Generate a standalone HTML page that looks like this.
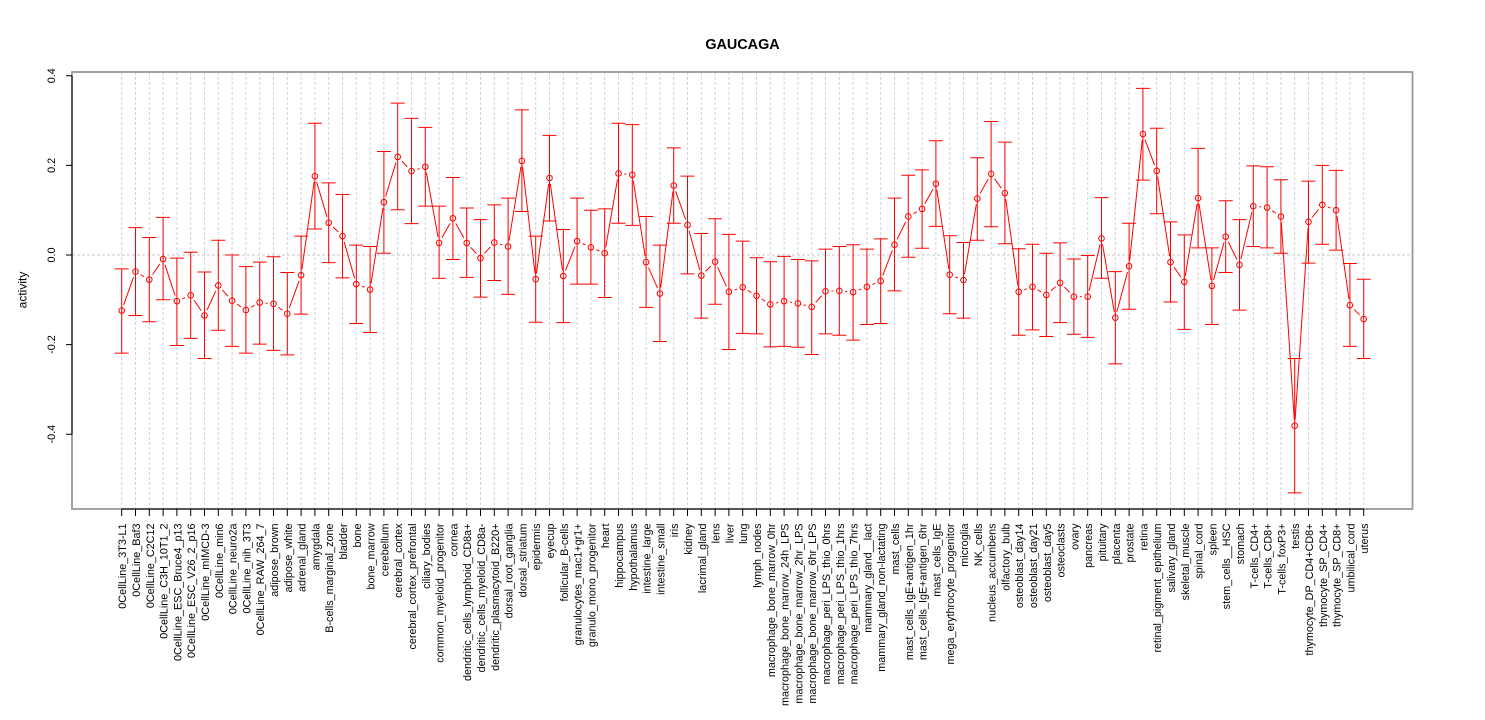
<!DOCTYPE html>
<html><head><meta charset="utf-8"><style>
html,body{margin:0;padding:0;background:#fff;width:1485px;height:720px;overflow:hidden}
svg{display:block}
text{font-family:"Liberation Sans",Arial,Helvetica,sans-serif;fill:#000}
</style></head><body>
<svg width="1485" height="720" viewBox="0 0 1485 720" xmlns="http://www.w3.org/2000/svg">
<defs>
<ellipse id="e" cx="0" cy="0" rx=".2029" ry=".00625" vector-effect="non-scaling-stroke"/>
<ellipse id="me" cx="0" cy="0" rx=".4348" ry=".01339" fill="#000"/>
<mask id="m" maskUnits="userSpaceOnUse" x="-5" y="-1" width="100" height="2">
<rect x="-5" y="-1" width="100" height="2" fill="#fff"/>
<g fill="#000">
<use href="#me" x="0" y="-.124"/><use href="#me" x="1" y="-.037"/><use href="#me" x="2" y="-.055"/><use href="#me" x="3" y="-.009"/><use href="#me" x="4" y="-.103"/><use href="#me" x="5" y="-.09"/><use href="#me" x="6" y="-.135"/><use href="#me" x="7" y="-.068"/><use href="#me" x="8" y="-.102"/><use href="#me" x="9" y="-.123"/>
<use href="#me" x="10" y="-.106"/><use href="#me" x="11" y="-.109"/><use href="#me" x="12" y="-.131"/><use href="#me" x="13" y="-.045"/><use href="#me" x="14" y=".176"/><use href="#me" x="15" y=".072"/><use href="#me" x="16" y=".042"/><use href="#me" x="17" y="-.065"/><use href="#me" x="18" y="-.077"/><use href="#me" x="19" y=".118"/>
<use href="#me" x="20" y=".219"/><use href="#me" x="21" y=".187"/><use href="#me" x="22" y=".197"/><use href="#me" x="23" y=".027"/><use href="#me" x="24" y=".082"/><use href="#me" x="25" y=".027"/><use href="#me" x="26" y="-.007"/><use href="#me" x="27" y=".028"/><use href="#me" x="28" y=".019"/><use href="#me" x="29" y=".21"/>
<use href="#me" x="30" y="-.054"/><use href="#me" x="31" y=".172"/><use href="#me" x="32" y="-.047"/><use href="#me" x="33" y=".031"/><use href="#me" x="34" y=".017"/><use href="#me" x="35" y=".004"/><use href="#me" x="36" y=".182"/><use href="#me" x="37" y=".179"/><use href="#me" x="38" y="-.016"/><use href="#me" x="39" y="-.086"/>
<use href="#me" x="40" y=".155"/><use href="#me" x="41" y=".067"/><use href="#me" x="42" y="-.046"/><use href="#me" x="43" y="-.015"/><use href="#me" x="44" y="-.082"/><use href="#me" x="45" y="-.072"/><use href="#me" x="46" y="-.091"/><use href="#me" x="47" y="-.11"/><use href="#me" x="48" y="-.103"/><use href="#me" x="49" y="-.108"/>
<use href="#me" x="50" y="-.116"/><use href="#me" x="51" y="-.081"/><use href="#me" x="52" y="-.08"/><use href="#me" x="53" y="-.083"/><use href="#me" x="54" y="-.071"/><use href="#me" x="55" y="-.058"/><use href="#me" x="56" y=".023"/><use href="#me" x="57" y=".086"/><use href="#me" x="58" y=".103"/><use href="#me" x="59" y=".159"/>
<use href="#me" x="60" y="-.044"/><use href="#me" x="61" y="-.056"/><use href="#me" x="62" y=".126"/><use href="#me" x="63" y=".181"/><use href="#me" x="64" y=".138"/><use href="#me" x="65" y="-.082"/><use href="#me" x="66" y="-.071"/><use href="#me" x="67" y="-.089"/><use href="#me" x="68" y="-.062"/><use href="#me" x="69" y="-.093"/>
<use href="#me" x="70" y="-.093"/><use href="#me" x="71" y=".037"/><use href="#me" x="72" y="-.14"/><use href="#me" x="73" y="-.025"/><use href="#me" x="74" y=".27"/><use href="#me" x="75" y=".188"/><use href="#me" x="76" y="-.016"/><use href="#me" x="77" y="-.06"/><use href="#me" x="78" y=".127"/><use href="#me" x="79" y="-.069"/>
<use href="#me" x="80" y=".041"/><use href="#me" x="81" y="-.022"/><use href="#me" x="82" y=".109"/><use href="#me" x="83" y=".106"/><use href="#me" x="84" y=".086"/><use href="#me" x="85" y="-.381"/><use href="#me" x="86" y=".074"/><use href="#me" x="87" y=".112"/><use href="#me" x="88" y=".1"/><use href="#me" x="89" y="-.112"/>
<use href="#me" x="90" y="-.143"/>
</g>
</mask>
</defs>

<!-- title -->
<text x="742.5" y="49" text-anchor="middle" font-weight="bold" font-size="14.4">GAUCAGA</text>

<!-- vertical grid -->
<g transform="translate(121.7 0) scale(13.8 1)">
<path fill="none" stroke="#d3d3d3" stroke-width="1" stroke-dasharray="3 2" vector-effect="non-scaling-stroke" d="M0 72V509M1 72V509M2 72V509M3 72V509M4 72V509M5 72V509M6 72V509M7 72V509M8 72V509M9 72V509M10 72V509M11 72V509M12 72V509M13 72V509M14 72V509M15 72V509M16 72V509M17 72V509M18 72V509M19 72V509M20 72V509M21 72V509M22 72V509M23 72V509M24 72V509M25 72V509M26 72V509M27 72V509M28 72V509M29 72V509M30 72V509M31 72V509M32 72V509M33 72V509M34 72V509M35 72V509M36 72V509M37 72V509M38 72V509M39 72V509M40 72V509M41 72V509M42 72V509M43 72V509M44 72V509M45 72V509M46 72V509M47 72V509M48 72V509M49 72V509M50 72V509M51 72V509M52 72V509M53 72V509M54 72V509M55 72V509M56 72V509M57 72V509M58 72V509M59 72V509M60 72V509M61 72V509M62 72V509M63 72V509M64 72V509M65 72V509M66 72V509M67 72V509M68 72V509M69 72V509M70 72V509M71 72V509M72 72V509M73 72V509M74 72V509M75 72V509M76 72V509M77 72V509M78 72V509M79 72V509M80 72V509M81 72V509M82 72V509M83 72V509M84 72V509M85 72V509M86 72V509M87 72V509M88 72V509M89 72V509M90 72V509"/>
</g>
<!-- zero line -->
<line x1="72" y1="255" x2="1412" y2="255" stroke="#c8c8c8" stroke-width="1" stroke-dasharray="3 2"/>

<!-- box -->
<rect x="72" y="72" width="1340.5" height="437" fill="none" stroke="#999" stroke-width="1.8"/>

<!-- data -->
<g transform="translate(121.7 255) scale(13.8 -448)">
<polyline mask="url(#m)" fill="none" stroke="#ff0000" stroke-width="1" vector-effect="non-scaling-stroke" points="0,-.124 1,-.037 2,-.055 3,-.009 4,-.103 5,-.09 6,-.135 7,-.068 8,-.102 9,-.123 10,-.106 11,-.109 12,-.131 13,-.045 14,.176 15,.072 16,.042 17,-.065 18,-.077 19,.118 20,.219 21,.187 22,.197 23,.027 24,.082 25,.027 26,-.007 27,.028 28,.019 29,.21 30,-.054 31,.172 32,-.047 33,.031 34,.017 35,.004 36,.182 37,.179 38,-.016 39,-.086 40,.155 41,.067 42,-.046 43,-.015 44,-.082 45,-.072 46,-.091 47,-.11 48,-.103 49,-.108 50,-.116 51,-.081 52,-.08 53,-.083 54,-.071 55,-.058 56,.023 57,.086 58,.103 59,.159 60,-.044 61,-.056 62,.126 63,.181 64,.138 65,-.082 66,-.071 67,-.089 68,-.062 69,-.093 70,-.093 71,.037 72,-.14 73,-.025 74,.27 75,.188 76,-.016 77,-.06 78,.127 79,-.069 80,.041 81,-.022 82,.109 83,.106 84,.086 85,-.381 86,.074 87,.112 88,.1 89,-.112 90,-.143"/>
<path fill="none" stroke="#ff0000" stroke-width="1" vector-effect="non-scaling-stroke" d="
M-.507 -.031h1.014m-.507 0V-.219m-.507 0h1.014
M.493 .061h1.014m-.507 0V-.135m-.507 0h1.014
M1.493 .039h1.014m-.507 0V-.149m-.507 0h1.014
M2.493 .084h1.014m-.507 0V-.1m-.507 0h1.014
M3.493 -.007h1.014m-.507 0V-.202m-.507 0h1.014
M4.493 .006h1.014m-.507 0V-.186m-.507 0h1.014
M5.493 -.038h1.014m-.507 0V-.231m-.507 0h1.014
M6.493 .033h1.014m-.507 0V-.168m-.507 0h1.014
M7.493 0h1.014m-.507 0V-.204m-.507 0h1.014
M8.493 -.026h1.014m-.507 0V-.219m-.507 0h1.014
M9.493 -.016h1.014m-.507 0V-.199m-.507 0h1.014
M10.493 -.004h1.014m-.507 0V-.213m-.507 0h1.014
M11.493 -.039h1.014m-.507 0V-.223m-.507 0h1.014
M12.493 .042h1.014m-.507 0V-.132m-.507 0h1.014
M13.493 .294h1.014m-.507 0V.058m-.507 0h1.014
M14.493 .161h1.014m-.507 0V-.017m-.507 0h1.014
M15.493 .135h1.014m-.507 0V-.051m-.507 0h1.014
M16.493 .022h1.014m-.507 0V-.153m-.507 0h1.014
M17.493 .019h1.014m-.507 0V-.173m-.507 0h1.014
M18.493 .231h1.014m-.507 0V.004m-.507 0h1.014
M19.493 .339h1.014m-.507 0V.101m-.507 0h1.014
M20.493 .305h1.014m-.507 0V.07m-.507 0h1.014
M21.493 .285h1.014m-.507 0V.109m-.507 0h1.014
M22.493 .109h1.014m-.507 0V-.052m-.507 0h1.014
M23.493 .173h1.014m-.507 0V-.01m-.507 0h1.014
M24.493 .105h1.014m-.507 0V-.05m-.507 0h1.014
M25.493 .079h1.014m-.507 0V-.094m-.507 0h1.014
M26.493 .112h1.014m-.507 0V-.057m-.507 0h1.014
M27.493 .127h1.014m-.507 0V-.088m-.507 0h1.014
M28.493 .324h1.014m-.507 0V.097m-.507 0h1.014
M29.493 .042h1.014m-.507 0V-.15m-.507 0h1.014
M30.493 .267h1.014m-.507 0V.076m-.507 0h1.014
M31.493 .057h1.014m-.507 0V-.151m-.507 0h1.014
M32.493 .127h1.014m-.507 0V-.065m-.507 0h1.014
M33.493 .1h1.014m-.507 0V-.065m-.507 0h1.014
M34.493 .103h1.014m-.507 0V-.095m-.507 0h1.014
M35.493 .294h1.014m-.507 0V.071m-.507 0h1.014
M36.493 .291h1.014m-.507 0V.066m-.507 0h1.014
M37.493 .086h1.014m-.507 0V-.117m-.507 0h1.014
M38.493 .022h1.014m-.507 0V-.193m-.507 0h1.014
M39.493 .239h1.014m-.507 0V.071m-.507 0h1.014
M40.493 .176h1.014m-.507 0V-.042m-.507 0h1.014
M41.493 .048h1.014m-.507 0V-.141m-.507 0h1.014
M42.493 .081h1.014m-.507 0V-.11m-.507 0h1.014
M43.493 .046h1.014m-.507 0V-.211m-.507 0h1.014
M44.493 .031h1.014m-.507 0V-.175m-.507 0h1.014
M45.493 -.006h1.014m-.507 0V-.176m-.507 0h1.014
M46.493 -.015h1.014m-.507 0V-.205m-.507 0h1.014
M47.493 -.003h1.014m-.507 0V-.204m-.507 0h1.014
M48.493 -.01h1.014m-.507 0V-.206m-.507 0h1.014
M49.493 -.013h1.014m-.507 0V-.222m-.507 0h1.014
M50.493 .013h1.014m-.507 0V-.176m-.507 0h1.014
M51.493 .019h1.014m-.507 0V-.179m-.507 0h1.014
M52.493 .023h1.014m-.507 0V-.19m-.507 0h1.014
M53.493 .013h1.014m-.507 0V-.155m-.507 0h1.014
M54.493 .036h1.014m-.507 0V-.153m-.507 0h1.014
M55.493 .127h1.014m-.507 0V-.08m-.507 0h1.014
M56.493 .178h1.014m-.507 0V-.005m-.507 0h1.014
M57.493 .19h1.014m-.507 0V.015m-.507 0h1.014
M58.493 .255h1.014m-.507 0V.064m-.507 0h1.014
M59.493 .043h1.014m-.507 0V-.131m-.507 0h1.014
M60.493 .028h1.014m-.507 0V-.141m-.507 0h1.014
M61.493 .217h1.014m-.507 0V.033m-.507 0h1.014
M62.493 .298h1.014m-.507 0V.063m-.507 0h1.014
M63.493 .252h1.014m-.507 0V.025m-.507 0h1.014
M64.493 .014h1.014m-.507 0V-.179m-.507 0h1.014
M65.493 .024h1.014m-.507 0V-.167m-.507 0h1.014
M66.493 .004h1.014m-.507 0V-.182m-.507 0h1.014
M67.493 .027h1.014m-.507 0V-.151m-.507 0h1.014
M68.493 -.009h1.014m-.507 0V-.177m-.507 0h1.014
M69.493 -.001h1.014m-.507 0V-.184m-.507 0h1.014
M70.493 .128h1.014m-.507 0V-.052m-.507 0h1.014
M71.493 -.037h1.014m-.507 0V-.243m-.507 0h1.014
M72.493 .071h1.014m-.507 0V-.121m-.507 0h1.014
M73.493 .372h1.014m-.507 0V.167m-.507 0h1.014
M74.493 .283h1.014m-.507 0V.092m-.507 0h1.014
M75.493 .074h1.014m-.507 0V-.105m-.507 0h1.014
M76.493 .045h1.014m-.507 0V-.166m-.507 0h1.014
M77.493 .238h1.014m-.507 0V.016m-.507 0h1.014
M78.493 .016h1.014m-.507 0V-.155m-.507 0h1.014
M79.493 .121h1.014m-.507 0V-.039m-.507 0h1.014
M80.493 .079h1.014m-.507 0V-.123m-.507 0h1.014
M81.493 .199h1.014m-.507 0V.019m-.507 0h1.014
M82.493 .197h1.014m-.507 0V.016m-.507 0h1.014
M83.493 .168h1.014m-.507 0V.004m-.507 0h1.014
M84.493 -.231h1.014m-.507 0V-.531m-.507 0h1.014
M85.493 .165h1.014m-.507 0V-.018m-.507 0h1.014
M86.493 .2h1.014m-.507 0V.024m-.507 0h1.014
M87.493 .189h1.014m-.507 0V.011m-.507 0h1.014
M88.493 -.019h1.014m-.507 0V-.204m-.507 0h1.014
M89.493 -.054h1.014m-.507 0V-.231m-.507 0h1.014"/>
<g fill="none" stroke="#ff0000" stroke-width="1">
<use href="#e" x="0" y="-.124"/><use href="#e" x="1" y="-.037"/><use href="#e" x="2" y="-.055"/><use href="#e" x="3" y="-.009"/><use href="#e" x="4" y="-.103"/><use href="#e" x="5" y="-.09"/><use href="#e" x="6" y="-.135"/><use href="#e" x="7" y="-.068"/><use href="#e" x="8" y="-.102"/><use href="#e" x="9" y="-.123"/>
<use href="#e" x="10" y="-.106"/><use href="#e" x="11" y="-.109"/><use href="#e" x="12" y="-.131"/><use href="#e" x="13" y="-.045"/><use href="#e" x="14" y=".176"/><use href="#e" x="15" y=".072"/><use href="#e" x="16" y=".042"/><use href="#e" x="17" y="-.065"/><use href="#e" x="18" y="-.077"/><use href="#e" x="19" y=".118"/>
<use href="#e" x="20" y=".219"/><use href="#e" x="21" y=".187"/><use href="#e" x="22" y=".197"/><use href="#e" x="23" y=".027"/><use href="#e" x="24" y=".082"/><use href="#e" x="25" y=".027"/><use href="#e" x="26" y="-.007"/><use href="#e" x="27" y=".028"/><use href="#e" x="28" y=".019"/><use href="#e" x="29" y=".21"/>
<use href="#e" x="30" y="-.054"/><use href="#e" x="31" y=".172"/><use href="#e" x="32" y="-.047"/><use href="#e" x="33" y=".031"/><use href="#e" x="34" y=".017"/><use href="#e" x="35" y=".004"/><use href="#e" x="36" y=".182"/><use href="#e" x="37" y=".179"/><use href="#e" x="38" y="-.016"/><use href="#e" x="39" y="-.086"/>
<use href="#e" x="40" y=".155"/><use href="#e" x="41" y=".067"/><use href="#e" x="42" y="-.046"/><use href="#e" x="43" y="-.015"/><use href="#e" x="44" y="-.082"/><use href="#e" x="45" y="-.072"/><use href="#e" x="46" y="-.091"/><use href="#e" x="47" y="-.11"/><use href="#e" x="48" y="-.103"/><use href="#e" x="49" y="-.108"/>
<use href="#e" x="50" y="-.116"/><use href="#e" x="51" y="-.081"/><use href="#e" x="52" y="-.08"/><use href="#e" x="53" y="-.083"/><use href="#e" x="54" y="-.071"/><use href="#e" x="55" y="-.058"/><use href="#e" x="56" y=".023"/><use href="#e" x="57" y=".086"/><use href="#e" x="58" y=".103"/><use href="#e" x="59" y=".159"/>
<use href="#e" x="60" y="-.044"/><use href="#e" x="61" y="-.056"/><use href="#e" x="62" y=".126"/><use href="#e" x="63" y=".181"/><use href="#e" x="64" y=".138"/><use href="#e" x="65" y="-.082"/><use href="#e" x="66" y="-.071"/><use href="#e" x="67" y="-.089"/><use href="#e" x="68" y="-.062"/><use href="#e" x="69" y="-.093"/>
<use href="#e" x="70" y="-.093"/><use href="#e" x="71" y=".037"/><use href="#e" x="72" y="-.14"/><use href="#e" x="73" y="-.025"/><use href="#e" x="74" y=".27"/><use href="#e" x="75" y=".188"/><use href="#e" x="76" y="-.016"/><use href="#e" x="77" y="-.06"/><use href="#e" x="78" y=".127"/><use href="#e" x="79" y="-.069"/>
<use href="#e" x="80" y=".041"/><use href="#e" x="81" y="-.022"/><use href="#e" x="82" y=".109"/><use href="#e" x="83" y=".106"/><use href="#e" x="84" y=".086"/><use href="#e" x="85" y="-.381"/><use href="#e" x="86" y=".074"/><use href="#e" x="87" y=".112"/><use href="#e" x="88" y=".1"/><use href="#e" x="89" y="-.112"/>
<use href="#e" x="90" y="-.143"/>
</g>
</g>

<!-- axes -->
<line x1="121.7" y1="509" x2="1363.7" y2="509" stroke="#000" stroke-width="1"/>
<line x1="121.2" y1="512.5" x2="1368.7" y2="512.5" stroke="#000" stroke-width="7" stroke-dasharray="1 12.8"/>
<line x1="72" y1="75.8" x2="72" y2="434.2" stroke="#000" stroke-width="1"/>
<path d="M66 75.8H72M66 165.4H72M66 255H72M66 344.6H72M66 434.2H72" stroke="#000" stroke-width="1"/>

<g transform="rotate(-90)" font-size="10.8" text-anchor="middle">
<text x="-75.8" y="55">0.4</text>
<text x="-165.4" y="55">0.2</text>
<text x="-255" y="55">0.0</text>
<text x="-344.6" y="55">-0.2</text>
<text x="-434.2" y="55">-0.4</text>
<text x="-290" y="26.5" font-size="12">activity</text>
</g>

<g transform="rotate(-90)" font-size="10.8" text-anchor="end">
<text x="-523.5" y="126.2">0CellLine_3T3-L1</text>
<text x="-523.5" y="140.0">0CellLine_Baf3</text>
<text x="-523.5" y="153.8">0CellLine_C2C12</text>
<text x="-523.5" y="167.6">0CellLine_C3H_10T1_2</text>
<text x="-523.5" y="181.4">0CellLine_ESC_Bruce4_p13</text>
<text x="-523.5" y="195.2">0CellLine_ESC_V26_2_p16</text>
<text x="-523.5" y="209.0">0CellLine_mIMCD-3</text>
<text x="-523.5" y="222.8">0CellLine_min6</text>
<text x="-523.5" y="236.6">0CellLine_neuro2a</text>
<text x="-523.5" y="250.4">0CellLine_nih_3T3</text>
<text x="-523.5" y="264.2">0CellLine_RAW_264_7</text>
<text x="-523.5" y="278.0">adipose_brown</text>
<text x="-523.5" y="291.8">adipose_white</text>
<text x="-523.5" y="305.6">adrenal_gland</text>
<text x="-523.5" y="319.4">amygdala</text>
<text x="-523.5" y="333.2">B-cells_marginal_zone</text>
<text x="-523.5" y="347.0">bladder</text>
<text x="-523.5" y="360.8">bone</text>
<text x="-523.5" y="374.6">bone_marrow</text>
<text x="-523.5" y="388.4">cerebellum</text>
<text x="-523.5" y="402.2">cerebral_cortex</text>
<text x="-523.5" y="416.0">cerebral_cortex_prefrontal</text>
<text x="-523.5" y="429.8">ciliary_bodies</text>
<text x="-523.5" y="443.6">common_myeloid_progenitor</text>
<text x="-523.5" y="457.4">cornea</text>
<text x="-523.5" y="471.2">dendritic_cells_lymphoid_CD8a+</text>
<text x="-523.5" y="485.0">dendritic_cells_myeloid_CD8a-</text>
<text x="-523.5" y="498.8">dendritic_plasmacytoid_B220+</text>
<text x="-523.5" y="512.6">dorsal_root_ganglia</text>
<text x="-523.5" y="526.4">dorsal_striatum</text>
<text x="-523.5" y="540.2">epidermis</text>
<text x="-523.5" y="554.0">eyecup</text>
<text x="-523.5" y="567.8">follicular_B-cells</text>
<text x="-523.5" y="581.6">granulocytes_mac1+gr1+</text>
<text x="-523.5" y="595.4">granulo_mono_progenitor</text>
<text x="-523.5" y="609.2">heart</text>
<text x="-523.5" y="623.0">hippocampus</text>
<text x="-523.5" y="636.8">hypothalamus</text>
<text x="-523.5" y="650.6">intestine_large</text>
<text x="-523.5" y="664.4">intestine_small</text>
<text x="-523.5" y="678.2">iris</text>
<text x="-523.5" y="692.0">kidney</text>
<text x="-523.5" y="705.8">lacrimal_gland</text>
<text x="-523.5" y="719.6">lens</text>
<text x="-523.5" y="733.4">liver</text>
<text x="-523.5" y="747.2">lung</text>
<text x="-523.5" y="761.0">lymph_nodes</text>
<text x="-523.5" y="774.8">macrophage_bone_marrow_0hr</text>
<text x="-523.5" y="788.6">macrophage_bone_marrow_24h_LPS</text>
<text x="-523.5" y="802.4">macrophage_bone_marrow_2hr_LPS</text>
<text x="-523.5" y="816.2">macrophage_bone_marrow_6hr_LPS</text>
<text x="-523.5" y="830.0">macrophage_peri_LPS_thio_0hrs</text>
<text x="-523.5" y="843.8">macrophage_peri_LPS_thio_1hrs</text>
<text x="-523.5" y="857.6">macrophage_peri_LPS_thio_7hrs</text>
<text x="-523.5" y="871.4">mammary_gland__lact</text>
<text x="-523.5" y="885.2">mammary_gland_non-lactating</text>
<text x="-523.5" y="899.0">mast_cells</text>
<text x="-523.5" y="912.8">mast_cells_IgE+antigen_1hr</text>
<text x="-523.5" y="926.6">mast_cells_IgE+antigen_6hr</text>
<text x="-523.5" y="940.4">mast_cells_IgE</text>
<text x="-523.5" y="954.2">mega_erythrocyte_progenitor</text>
<text x="-523.5" y="968.0">microglia</text>
<text x="-523.5" y="981.8">NK_cells</text>
<text x="-523.5" y="995.6">nucleus_accumbens</text>
<text x="-523.5" y="1009.4">olfactory_bulb</text>
<text x="-523.5" y="1023.2">osteoblast_day14</text>
<text x="-523.5" y="1037.0">osteoblast_day21</text>
<text x="-523.5" y="1050.8">osteoblast_day5</text>
<text x="-523.5" y="1064.6">osteoclasts</text>
<text x="-523.5" y="1078.4">ovary</text>
<text x="-523.5" y="1092.2">pancreas</text>
<text x="-523.5" y="1106.0">pituitary</text>
<text x="-523.5" y="1119.8">placenta</text>
<text x="-523.5" y="1133.6">prostate</text>
<text x="-523.5" y="1147.4">retina</text>
<text x="-523.5" y="1161.2">retinal_pigment_epithelium</text>
<text x="-523.5" y="1175.0">salivary_gland</text>
<text x="-523.5" y="1188.8">skeletal_muscle</text>
<text x="-523.5" y="1202.6">spinal_cord</text>
<text x="-523.5" y="1216.4">spleen</text>
<text x="-523.5" y="1230.2">stem_cells__HSC</text>
<text x="-523.5" y="1244.0">stomach</text>
<text x="-523.5" y="1257.8">T-cells_CD4+</text>
<text x="-523.5" y="1271.6">T-cells_CD8+</text>
<text x="-523.5" y="1285.4">T-cells_foxP3+</text>
<text x="-523.5" y="1299.2">testis</text>
<text x="-523.5" y="1313.0">thymocyte_DP_CD4+CD8+</text>
<text x="-523.5" y="1326.8">thymocyte_SP_CD4+</text>
<text x="-523.5" y="1340.6">thymocyte_SP_CD8+</text>
<text x="-523.5" y="1354.4">umbilical_cord</text>
<text x="-523.5" y="1368.2">uterus</text>
</g>
</svg>
</body></html>
